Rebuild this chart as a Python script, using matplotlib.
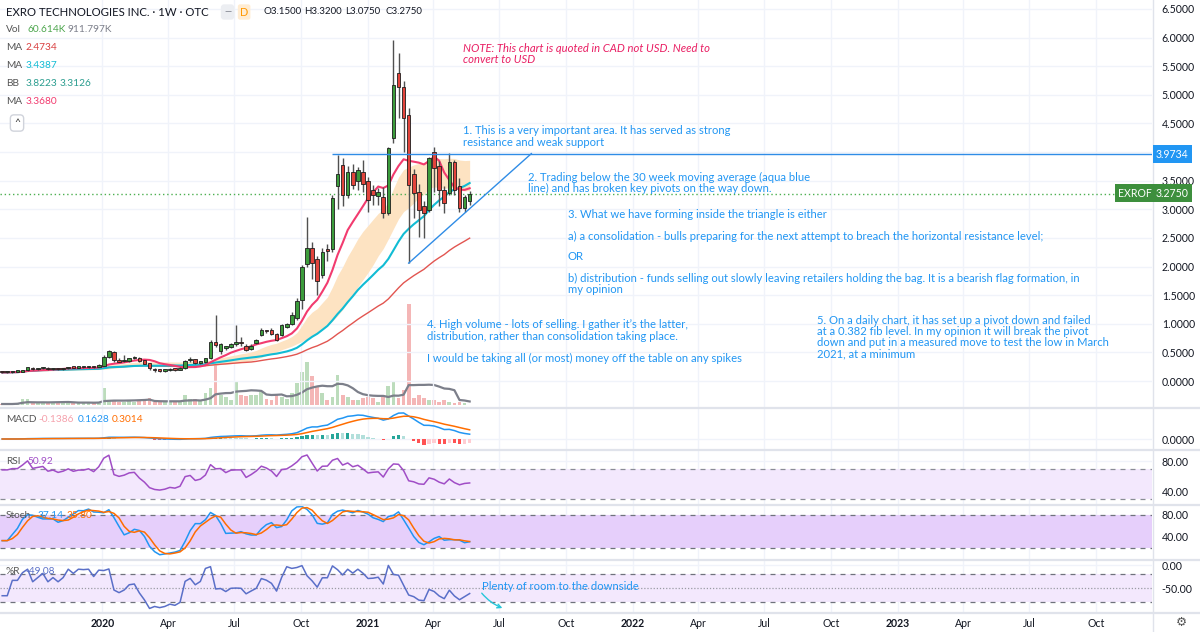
import numpy as np
import pandas as pd
import matplotlib
matplotlib.use('Agg')
import matplotlib.pyplot as plt
import matplotlib.dates as mdates
from matplotlib.lines import Line2D
from matplotlib import font_manager

W, H = 1200, 632

# weekly candles, EXROF (quoted in CAD)
opens = [0.16, 0.15, 0.15, 0.16, 0.16, 0.19, 0.23, 0.21, 0.22, 0.23,
         0.21, 0.22, 0.21, 0.22, 0.24, 0.23, 0.24, 0.24, 0.25, 0.24,
         0.27, 0.42, 0.50, 0.37, 0.35, 0.35, 0.40, 0.41, 0.36, 0.31,
         0.21, 0.19, 0.18, 0.19, 0.21, 0.20, 0.22, 0.36, 0.38, 0.32,
         0.33, 0.40, 0.69, 0.52, 0.58, 0.60, 0.65, 0.68, 0.62, 0.56,
         0.66, 0.80, 0.88, 0.90, 0.82, 0.80, 0.95, 1.00, 1.10, 1.42,
         2.05, 2.32, 2.14, 1.85, 2.30, 2.30, 3.40, 3.77, 3.25, 3.66,
         3.50, 3.66, 3.50, 3.33, 3.24, 3.22, 2.94, 4.24, 5.38, 5.14,
         4.65, 3.62, 3.31, 3.06, 2.98, 4.01, 3.76, 3.34, 3.28, 3.83,
         3.40, 3.02, 3.15]
highs = [0.17, 0.16, 0.17, 0.17, 0.20, 0.25, 0.24, 0.23, 0.25, 0.24,
         0.23, 0.23, 0.23, 0.25, 0.25, 0.25, 0.25, 0.26, 0.26, 0.29,
         0.45, 0.55, 0.52, 0.40, 0.46, 0.41, 0.43, 0.42, 0.37, 0.32,
         0.22, 0.21, 0.21, 0.22, 0.23, 0.24, 0.37, 0.42, 0.39, 0.35,
         0.41, 0.71, 1.15, 0.66, 0.62, 0.67, 0.98, 0.77, 0.64, 0.64,
         0.74, 0.93, 0.90, 0.92, 0.84, 0.99, 1.02, 1.20, 1.45, 2.02,
         2.87, 2.43, 2.18, 2.32, 2.40, 3.25, 3.95, 3.89, 3.76, 3.80,
         3.74, 3.86, 3.57, 3.42, 3.37, 3.39, 4.09, 5.96, 5.73, 5.25,
         4.77, 3.70, 3.45, 3.15, 3.92, 4.09, 3.85, 3.40, 3.98, 3.86,
         3.55, 3.25, 3.32]
lows = [0.14, 0.14, 0.14, 0.15, 0.15, 0.18, 0.20, 0.20, 0.21, 0.20,
        0.20, 0.20, 0.20, 0.21, 0.22, 0.22, 0.23, 0.23, 0.23, 0.24,
        0.26, 0.40, 0.34, 0.33, 0.33, 0.34, 0.38, 0.34, 0.29, 0.20,
        0.15, 0.16, 0.16, 0.17, 0.18, 0.19, 0.21, 0.34, 0.30, 0.30,
        0.32, 0.39, 0.60, 0.48, 0.55, 0.58, 0.62, 0.62, 0.52, 0.54,
        0.64, 0.78, 0.84, 0.80, 0.70, 0.78, 0.93, 0.98, 1.07, 1.25,
        2.00, 1.79, 1.50, 1.80, 2.10, 2.25, 3.00, 3.05, 3.19, 3.35,
        3.33, 3.30, 2.96, 3.07, 3.07, 2.84, 2.90, 4.15, 4.59, 4.00,
        2.06, 2.85, 2.52, 2.49, 2.96, 3.31, 3.05, 2.93, 3.25, 3.25,
        2.96, 2.96, 3.075]
closes = [0.15, 0.15, 0.16, 0.16, 0.19, 0.24, 0.21, 0.22, 0.23, 0.21,
          0.22, 0.21, 0.22, 0.24, 0.23, 0.24, 0.24, 0.25, 0.24, 0.28,
          0.42, 0.52, 0.36, 0.34, 0.36, 0.40, 0.41, 0.35, 0.30, 0.22,
          0.19, 0.18, 0.19, 0.21, 0.20, 0.22, 0.35, 0.37, 0.31, 0.33,
          0.40, 0.69, 0.63, 0.64, 0.58, 0.65, 0.66, 0.66, 0.55, 0.62,
          0.72, 0.90, 0.87, 0.82, 0.72, 0.97, 1.00, 1.15, 1.40, 2.00,
          2.32, 2.06, 1.75, 2.25, 2.27, 3.20, 3.62, 3.25, 3.66, 3.42,
          3.68, 3.44, 3.16, 3.25, 3.30, 2.94, 4.07, 5.17, 5.14, 4.59,
          3.42, 3.28, 2.99, 2.94, 3.89, 3.72, 3.34, 3.11, 3.83, 3.34,
          3.02, 3.21, 3.275]
# weekly volume, thousands of shares
volumes_k = [200, 200, 200, 400, 1200, 1200, 400, 400, 600, 400,
             400, 400, 400, 600, 600, 600, 400, 400, 400, 600,
             3400, 1000, 800, 600, 600, 800, 600, 800, 800, 1400,
             600, 600, 600, 600, 600, 800, 2000, 1200, 1200, 800,
             2400, 3400, 8400, 2000, 1600, 1000, 4800, 2000, 1800, 2000,
             2000, 2600, 1200, 1000, 2000, 1600, 1200, 2400, 4400, 6600,
             8600, 5800, 3600, 2400, 1000, 1600, 6000, 2000, 1600, 1000,
             1000, 1400, 1600, 1400, 600, 1600, 3800, 4800, 1400, 3000,
             20200, 1400, 2000, 1400, 1000, 1000, 600, 1000, 600, 400,
             600, 400, 60.6]
dates = pd.date_range('2019-08-16', periods=len(closes), freq='7D')

tick_dates = pd.date_range('2020-01-01', '2023-10-01', freq='QS')
tick_labels = [str(d.year) if d.month == 1 else d.strftime('%b') for d in tick_dates]
price_ticks = np.arange(0, 6.51, 0.5)

resistance = 3.9734
last_close = 3.275
trend_end = pd.Timestamp('2021-08-14')

installed = {f.name for f in font_manager.fontManager.ttflist}
UI = 'Lato' if 'Lato' in installed else 'DejaVu Sans'
plt.rcParams['font.family'] = [UI, 'DejaVu Sans']

# indicators
o, h, l, c = (pd.Series(v, dtype=float) for v in (opens, highs, lows, closes))
vol = pd.Series(volumes_k, dtype=float)
ma10 = c.rolling(10, min_periods=1).mean()
ma30 = c.rolling(30, min_periods=1).mean()
ma50 = c.rolling(50, min_periods=1).mean()
basis = c.rolling(20, min_periods=1).mean()
dev = c.rolling(20, min_periods=1).std(ddof=0).fillna(0)
bb_up, bb_lo = basis + 0.4 * dev, basis - 0.4 * dev
vol_ma = vol.rolling(10, min_periods=1).mean()

ema12 = c.ewm(span=12, adjust=False).mean()
ema26 = c.ewm(span=26, adjust=False).mean()
macd = ema12 - ema26
signal = macd.ewm(span=9, adjust=False).mean()
hist = macd - signal

# Wilder RSI, seeded with the average move of the first 14 weeks
delta = c.diff().fillna(0).values
gains, losses = np.clip(delta, 0, None), np.clip(-delta, 0, None)
ag, al = gains[1:15].mean(), losses[1:15].mean()
rsi_vals = []
for g, ls_ in zip(gains, losses):
    ag = (ag * 13 + g) / 14
    al = (al * 13 + ls_) / 14
    rsi_vals.append(100 - 100 / (1 + ag / al) if al > 0 else 100)
rsi = pd.Series(rsi_vals)

hh = h.rolling(14, min_periods=1).max()
ll = l.rolling(14, min_periods=1).min()
rng = (hh - ll).replace(0, np.nan)
stoch_k = (100 * (c - ll) / rng).fillna(50).rolling(3, min_periods=1).mean()
stoch_d = stoch_k.rolling(3, min_periods=1).mean()
will_r = (-100 * (hh - c) / rng).fillna(-50)

x = mdates.date2num(dates)
up = (c >= o).values

fig = plt.figure(figsize=(W / 100, H / 100), dpi=100)
fig.patch.set_facecolor('white')


def pane(y0, y1):
    ax = fig.add_axes([0, 1 - y1 / H, 1152 / W, (y1 - y0) / H])
    for s in ax.spines.values():
        s.set_visible(False)
    ax.set_xlim(pd.Timestamp('2019-08-13'), pd.Timestamp('2023-12-17'))
    ax.set_xticks(tick_dates)
    ax.grid(True, color='#f0f3fa', lw=1)
    ax.set_axisbelow(True)
    ax.yaxis.tick_right()
    ax.tick_params(axis='both', length=0, labelsize=7.6, colors='#131722', pad=7)
    ax.tick_params(axis='x', labelbottom=False)
    return ax


def ftext(px, py, s, color='#131722', size=7.3, **kw):
    return fig.text(px / W, 1 - py / H, s, color=color, fontsize=size, va='center', **kw)


main = pane(0, 407)
volax = main.twinx()
main.yaxis.tick_right()
volax.set_xlim(main.get_xlim())
for s in volax.spines.values():
    s.set_visible(False)
volax.set_yticks([])
volax.bar(x, vol, width=5.2, color=np.where(up, '#bcdcbc', '#f4b6b6'), zorder=1)
volax.plot(x, vol_ma, color='#7c7f8a', lw=1.6)
volax.set_ylim(-400, 81000)
main.set_zorder(volax.get_zorder() + 1)
main.patch.set_visible(False)

main.set_ylim(-0.454, 6.657)
main.set_yticks(price_ticks)
# the 4.0000 label sits under the resistance tag
main.set_yticklabels(['' if abs(v - 4.0) < 1e-9 else f'{v:.4f}' for v in price_ticks])
main.tick_params(axis='y', length=0, labelsize=7.6, colors='#131722', pad=7,
                 labelright=True, labelleft=False)
main.fill_between(x, bb_lo, bb_up, color='#fde3c2', lw=0, zorder=1)
main.plot(x, ma50, color='#e25550', lw=1.0, zorder=2)
main.plot(x, ma30, color='#11bcd4', lw=1.5, zorder=2)
main.plot(x, ma10, color='#f23b6f', lw=1.5, zorder=2)
main.vlines(x, l, h, color='#505050', lw=1, zorder=3)
main.bar(x, np.maximum((c - o).abs(), 0.025), bottom=np.minimum(o, c), width=4.9,
         color=np.where(up, '#3c9c3c', '#e2443c'), edgecolor='#1e1e1e', lw=0.6, zorder=4)

main.axhline(last_close, color='#4caf50', lw=1, ls=(0, (1, 2)), zorder=2)
main.hlines(resistance, dates[65], pd.Timestamp('2023-12-17'), color='#2f8ce6', lw=1, zorder=5)
main.plot([dates[80], trend_end], [lows[80], resistance], color='#2f8ce6', lw=1, zorder=5)

# MACD
axm = pane(408, 449)
mtop = macd.max() / 0.84
axm.set_ylim(-mtop * 10 / 31, mtop)
axm.set_yticks([0])
axm.set_yticklabels(['0.0000'])
hcol = []
for i, v in enumerate(hist):
    prev = hist.iloc[i - 1] if i else 0
    if v >= 0:
        hcol.append('#26a69a' if v >= prev else '#b2dfdb')
    else:
        hcol.append('#ff5252' if v < prev else '#ffcdd2')
axm.bar(x, hist, width=4.5, color=hcol)
axm.plot(x, macd, color='#2196f3', lw=1.1)
axm.plot(x, signal, color='#ff6d00', lw=1.1)

# RSI
axr = pane(450, 504)
axr.set_ylim(22.7, 94.7)
axr.set_yticks([40, 80])
axr.set_yticklabels(['40.00', '80.00'])
axr.axhspan(30, 70, color='#f3e8fd', lw=0)
for lv in (30, 70):
    axr.axhline(lv, color='#8a8d96', lw=0.9, ls=(0, (4, 4)))
axr.plot(x, rsi, color='#a04dc6', lw=1.1)

# Stoch
axs = pane(505, 559)
axs.set_ylim(0, 98)
axs.set_yticks([40, 80])
axs.set_yticklabels(['40.00', '80.00'])
axs.axhspan(20, 80, color='#e6cffb', lw=0)
for lv in (20, 80):
    axs.axhline(lv, color='#6f727c', lw=0.9, ls=(0, (4, 4)))
axs.plot(x, stoch_k, color='#2196f3', lw=1.1)
axs.plot(x, stoch_d, color='#ff6d00', lw=1.1)

# Williams %R
axw = pane(560, 612)
axw.set_ylim(-102, 10.9)
axw.set_yticks([-50, 0])
axw.set_yticklabels(['-50.00', '0.00'])
axw.axhspan(-80, -20, color='#f3e8fd', lw=0)
for lv in (-80, -20):
    axw.axhline(lv, color='#6f727c', lw=0.9, ls=(0, (4, 4)))
axw.axhline(-50, color='#9a9ca4', lw=0.9, ls=(0, (1, 1.5)))
axw.plot(x, will_r, color='#5a6fc8', lw=1.1)
axw.tick_params(axis='x', labelbottom=True, pad=4)
axw.set_xticklabels(tick_labels)
for t, lab in zip(axw.get_xticklabels(), tick_labels):
    if lab.isdigit():
        t.set_fontweight('bold')

# pane separators and price-scale border
for yy in (407.5, 449.5, 504.5, 559.5, 612.5):
    fig.add_artist(Line2D([0, 1], [1 - yy / H] * 2, color='#e0e3eb', lw=1.6))
fig.add_artist(Line2D([1152.5 / W] * 2, [0, 1], color='#e0e3eb', lw=1))

# header and legends
ftext(6, 12, 'EXRO TECHNOLOGIES INC. · 1W · OTC', size=8.2)
ftext(224, 12, '—', color='#7c7f8a', size=6.5,
      bbox=dict(boxstyle='round,pad=0.35', fc='#eceef2', ec='none'))
ftext(240, 12, 'D', color='#ff9800', size=7.8,
      bbox=dict(boxstyle='round,pad=0.2', fc='#ffecd2', ec='none'))
for j, s in enumerate(['O3.1500', 'H3.3200', 'L3.0750', 'C3.2750']):
    ftext(263 + 41 * j, 12, s, size=7.0)

ftext(6, 30, 'Vol', color='#555')
ftext(27, 30, '60.614K', color='#4da64d')
ftext(68, 30, '911.797K', color='#7c7f8a')
rows = [(48, 'MA', ['2.4734'], '#d94040'),
        (66, 'MA', ['3.4387'], '#11bcd4'),
        (84, 'BB', ['3.8223', '3.3126'], '#2a9d8f'),
        (102, 'MA', ['3.3680'], '#f23b6f')]
for yy, name, vals, col in rows:
    ftext(6, yy, name, color='#555')
    for j, v in enumerate(vals):
        ftext(26 + j * 34, yy, v, color=col)
ftext(14, 123, '^', size=7.5, color='#333',
      bbox=dict(boxstyle='round,pad=0.35', fc='white', ec='#d0d3db'))

ftext(6, 420, 'MACD', color='#555')
ftext(38, 420, '-0.1386', color='#f5a0ab')
ftext(78, 420, '0.1628', color='#2196f3')
ftext(112, 420, '0.3014', color='#ff6d00')
ftext(6, 462, 'RSI', color='#555')
ftext(27, 462, '50.92', color='#a04dc6')
ftext(6, 516, 'Stoch', color='#555')
ftext(38, 516, '37.14', color='#2196f3')
ftext(67, 516, '35.80', color='#ff6d00')
ftext(6, 572, '%R', color='#555')
ftext(25, 572, '-49.08', color='#5a6fc8')

# price tags
ftext(1156, 154, '3.9734', size=7.6, color='white',
      bbox=dict(boxstyle='square,pad=0.3', fc='#2196f3', ec='none'))
ftext(1118, 193, 'EXROF', size=7.6, color='white',
      bbox=dict(boxstyle='square,pad=0.3', fc='#3d8f3d', ec='none'))
ftext(1156, 193, '3.2750', size=7.6, color='white',
      bbox=dict(boxstyle='square,pad=0.3', fc='#3d8f3d', ec='none'))
ftext(1176, 622, '⚙', size=9, color='#555', family='DejaVu Sans')

# notes drawn on the chart
blue = '#2196f3'
notes = [
    (463, 48, ['NOTE: This chart is quoted in CAD not USD. Need to', 'convert to USD'], '#e91e63', 'italic'),
    (463, 131, ['1. This is a very important area. It has served as strong',
                'resistance and weak support'], blue, 'normal'),
    (528, 177, ['2. Trading below the 30 week moving average (aqua blue',
                'line) and has broken key pivots on the way down.'], blue, 'normal'),
    (568, 214, ['3. What we have forming inside the triangle is either'], blue, 'normal'),
    (568, 236, ['a) a consolidation - bulls preparing for the next attempt to breach the horizontal resistance level;'],
     blue, 'normal'),
    (568, 257, ['OR'], blue, 'normal'),
    (568, 278, ['b) distribution - funds selling out slowly leaving retailers holding the bag. It is a bearish flag formation, in',
                'my opinion'], blue, 'normal'),
    (427, 325, ['4. High volume - lots of selling. I gather it\u2019s the latter,',
                'distribution, rather than consolidation taking place.', '',
                'I would be taking all (or most) money off the table on any spikes'], blue, 'normal'),
    (817, 320, ['5. On a daily chart, it has set up a pivot down and failed',
                'at a 0.382 fib level. In my opinion it will break the pivot',
                'down and put in a measured move to test the low in March',
                '2021, at a minimum'], blue, 'normal'),
    (482, 586, ['Plenty of room to the downside'], blue, 'normal'),
]
for nx, ny, lines, col, style in notes:
    for i, line in enumerate(lines):
        if line:
            ftext(nx, ny + i * 11.3, line, color=col, size=8.1, style=style)

fig.add_artist(matplotlib.patches.FancyArrowPatch(
    (480 / W, 1 - 591 / H), (505 / W, 1 - 609 / H), transform=fig.transFigure,
    arrowstyle='->', mutation_scale=7, color='#26c6da', lw=1,
    connectionstyle='arc3,rad=0.15'))

fig.savefig('out.png', dpi=100, facecolor='white')
